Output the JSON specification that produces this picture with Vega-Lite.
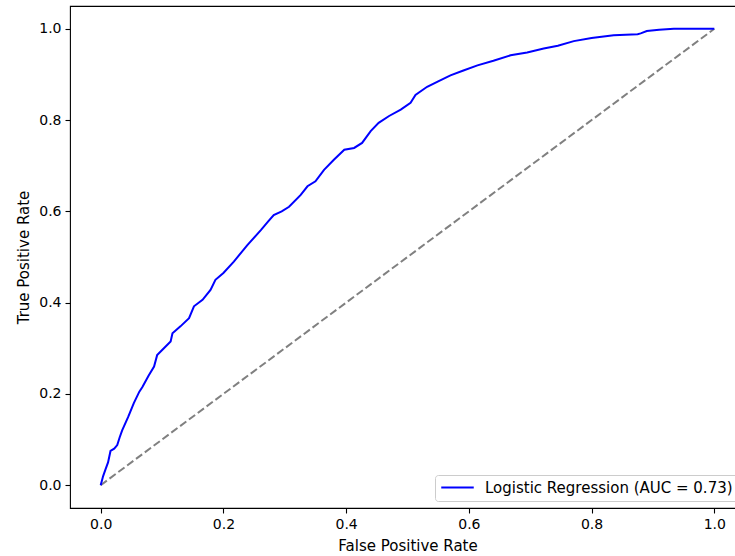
{
  "$schema": "https://vega.github.io/schema/vega-lite/v6.json",
  "width": 675,
  "height": 502,
  "autosize": {"type": "none"},
  "padding": {"left": 70, "top": 6, "right": 0, "bottom": 48},
  "background": "white",
  "config": {
    "view": {"stroke": "#000000", "strokeWidth": 1.1},
    "font": "DejaVu Sans",
    "axis": {
      "domain": false,
      "grid": false,
      "tickColor": "#000000",
      "tickSize": 5,
      "tickWidth": 1.1,
      "labelFont": "DejaVu Sans",
      "labelFontSize": 14,
      "labelColor": "#000000",
      "labelPadding": 4,
      "titleFont": "DejaVu Sans",
      "titleFontSize": 15,
      "titleFontWeight": "normal",
      "titleColor": "#000000"
    },
    "legend": {
      "labelFont": "DejaVu Sans",
      "labelFontSize": 15,
      "labelColor": "#000000"
    }
  },
  "datasets": {
    "roc": [
      {"fpr": 0.0, "tpr": 0.0},
      {"fpr": 0.004, "tpr": 0.02},
      {"fpr": 0.008, "tpr": 0.035},
      {"fpr": 0.012, "tpr": 0.05},
      {"fpr": 0.016, "tpr": 0.075},
      {"fpr": 0.022, "tpr": 0.08},
      {"fpr": 0.027, "tpr": 0.088},
      {"fpr": 0.031, "tpr": 0.105},
      {"fpr": 0.035, "tpr": 0.12},
      {"fpr": 0.045, "tpr": 0.15},
      {"fpr": 0.054, "tpr": 0.18},
      {"fpr": 0.063, "tpr": 0.205},
      {"fpr": 0.068, "tpr": 0.215},
      {"fpr": 0.078, "tpr": 0.24},
      {"fpr": 0.087, "tpr": 0.26},
      {"fpr": 0.092, "tpr": 0.285},
      {"fpr": 0.103, "tpr": 0.3},
      {"fpr": 0.114, "tpr": 0.315},
      {"fpr": 0.117, "tpr": 0.333},
      {"fpr": 0.13, "tpr": 0.348},
      {"fpr": 0.144, "tpr": 0.366},
      {"fpr": 0.152, "tpr": 0.392},
      {"fpr": 0.166, "tpr": 0.406},
      {"fpr": 0.179, "tpr": 0.428},
      {"fpr": 0.187, "tpr": 0.45},
      {"fpr": 0.2, "tpr": 0.465},
      {"fpr": 0.217, "tpr": 0.49},
      {"fpr": 0.239, "tpr": 0.526},
      {"fpr": 0.261, "tpr": 0.559},
      {"fpr": 0.273, "tpr": 0.578},
      {"fpr": 0.282, "tpr": 0.592},
      {"fpr": 0.295, "tpr": 0.6},
      {"fpr": 0.307, "tpr": 0.61},
      {"fpr": 0.326, "tpr": 0.636},
      {"fpr": 0.337, "tpr": 0.655},
      {"fpr": 0.35, "tpr": 0.666},
      {"fpr": 0.364, "tpr": 0.691},
      {"fpr": 0.38, "tpr": 0.713},
      {"fpr": 0.397, "tpr": 0.735},
      {"fpr": 0.413, "tpr": 0.739},
      {"fpr": 0.426, "tpr": 0.75},
      {"fpr": 0.44, "tpr": 0.776},
      {"fpr": 0.453, "tpr": 0.794},
      {"fpr": 0.47, "tpr": 0.809},
      {"fpr": 0.489, "tpr": 0.823},
      {"fpr": 0.505, "tpr": 0.838},
      {"fpr": 0.513, "tpr": 0.855},
      {"fpr": 0.532, "tpr": 0.873},
      {"fpr": 0.55, "tpr": 0.885},
      {"fpr": 0.57, "tpr": 0.898},
      {"fpr": 0.59, "tpr": 0.908},
      {"fpr": 0.614, "tpr": 0.92},
      {"fpr": 0.64, "tpr": 0.93},
      {"fpr": 0.668, "tpr": 0.942},
      {"fpr": 0.695, "tpr": 0.948},
      {"fpr": 0.722, "tpr": 0.957},
      {"fpr": 0.745, "tpr": 0.963},
      {"fpr": 0.771, "tpr": 0.973},
      {"fpr": 0.8, "tpr": 0.98},
      {"fpr": 0.836, "tpr": 0.986},
      {"fpr": 0.875, "tpr": 0.988},
      {"fpr": 0.88, "tpr": 0.99},
      {"fpr": 0.89, "tpr": 0.995},
      {"fpr": 0.91, "tpr": 0.998},
      {"fpr": 0.934, "tpr": 1.0},
      {"fpr": 1.0, "tpr": 1.0}
    ],
    "diag": [
      {"fpr": 0.0, "tpr": 0.0},
      {"fpr": 1.0, "tpr": 1.0}
    ]
  },
  "encoding": {
    "x": {
      "field": "fpr",
      "type": "quantitative",
      "scale": {"domain": [-0.05, 1.05], "nice": false, "zero": false},
      "axis": {"title": "False Positive Rate", "values": [0, 0.2, 0.4, 0.6, 0.8, 1.0], "format": ".1f", "titlePadding": 7}
    },
    "y": {
      "field": "tpr",
      "type": "quantitative",
      "scale": {"domain": [-0.05, 1.05], "nice": false, "zero": false},
      "axis": {"title": "True Positive Rate", "values": [0, 0.2, 0.4, 0.6, 0.8, 1.0], "format": ".1f", "titlePadding": 7}
    }
  },
  "layer": [
    {
      "data": {"name": "diag"},
      "mark": {"type": "line", "color": "#808080", "strokeWidth": 2, "strokeDash": [7.7, 3.3]},
      "encoding": {}
    },
    {
      "data": {"name": "roc"},
      "transform": [{"calculate": "'Logistic Regression (AUC = 0.73)'", "as": "series"}],
      "mark": {"type": "line", "strokeWidth": 2, "interpolate": "linear"},
      "encoding": {
        "order": {"field": "fpr", "type": "quantitative"},
        "color": {
          "field": "series",
          "type": "nominal",
          "scale": {"range": ["#0000ff"]},
          "legend": {
            "title": null,
            "orient": "bottom-right",
            "offset": 7,
            "symbolType": "M-2.5,0H2.5",
            "symbolStrokeWidth": 2,
            "symbolSize": 169,
            "symbolOffset": 10,
            "labelOffset": 20,
            "labelLimit": 400,
            "padding": 5,
            "fillColor": "white",
            "strokeColor": "#cccccc",
            "cornerRadius": 3
          }
        }
      }
    }
  ]
}
